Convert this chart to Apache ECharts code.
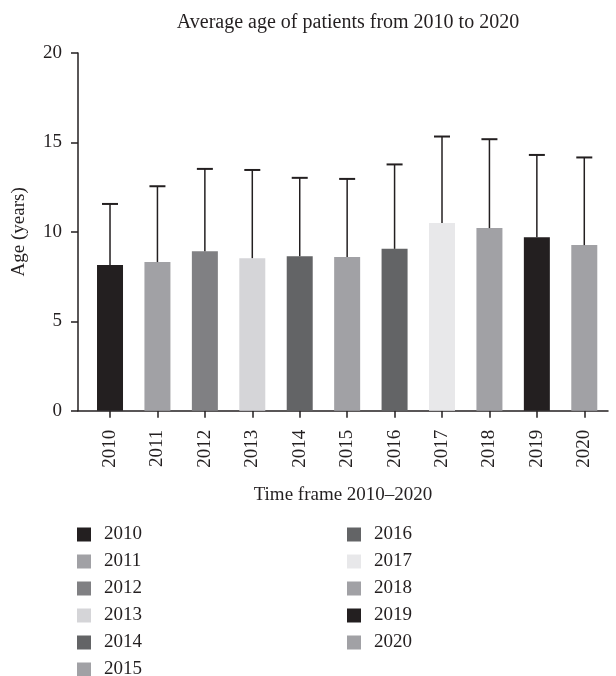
<!DOCTYPE html>
<html>
<head>
<meta charset="utf-8">
<style>
  html, body { margin: 0; padding: 0; background: #fff; }
  #chart { width: 616px; height: 676px; }
</style>
<script src="https://cdn.jsdelivr.net/npm/echarts@6/dist/echarts.min.js"></script>
</head>
<body>
<div id="chart"></div>
<script>
// Yearly mean patient age with the upper standard-deviation whisker
const years = ['2010', '2011', '2012', '2013', '2014', '2015', '2016', '2017', '2018', '2019', '2020'];
const meanAge = [8.14, 8.31, 8.92, 8.53, 8.64, 8.60, 9.05, 10.49, 10.21, 9.70, 9.26];
const upperAge = [11.56, 12.55, 13.52, 13.46, 13.02, 12.96, 13.77, 15.33, 15.18, 14.30, 14.16];
const barColors = ['#231f20', '#a1a1a5', '#808083', '#d5d5d8', '#636466', '#a1a1a5',
                   '#636466', '#e8e8ea', '#a1a1a5', '#231f20', '#a1a1a5'];

const FONT = '"Liberation Serif", "DejaVu Serif", serif';
const TXT = '#231f20';

const chart = echarts.init(document.getElementById('chart'), null, { renderer: 'canvas' });

const positions = years.map((_, i) => i);

const barSeries = years.map((y, i) => ({
  name: y,
  type: 'bar',
  barWidth: 26,
  barGap: '-100%',
  data: [[i, meanAge[i]]],
  itemStyle: { color: barColors[i] },
  emphasis: { disabled: true },
  z: 2
}));

const whiskers = {
  type: 'custom',
  name: 'sd',
  data: years.map((_, i) => [i, meanAge[i], upperAge[i]]),
  encode: { x: 0, y: [1, 2] },
  renderItem: function (params, api) {
    const base = api.coord([api.value(0), api.value(1)]);
    const top = api.coord([api.value(0), api.value(2)]);
    const half = 8;
    return {
      type: 'group',
      children: [
        { type: 'line', shape: { x1: base[0], y1: base[1], x2: top[0], y2: top[1] },
          style: { stroke: TXT, lineWidth: 1.5 } },
        { type: 'line', shape: { x1: top[0] - half, y1: top[1], x2: top[0] + half, y2: top[1] },
          style: { stroke: TXT, lineWidth: 2 } }
      ]
    };
  },
  z: 3
};

const legendCommon = {
  orient: 'vertical',
  itemWidth: 14,
  itemHeight: 14,
  itemGap: 8,
  icon: 'rect',
  padding: 0,
  height: 220,
  textStyle: { fontFamily: FONT, fontSize: 19, color: TXT, padding: [0, 0, 0, 8] },
  selectedMode: false
};

chart.setOption({
  animation: false,
  backgroundColor: '#ffffff',
  title: {
    text: 'Average age of patients from 2010 to 2020',
    left: 343,
    textAlign: 'center',
    top: 8,
    textStyle: { fontFamily: FONT, fontSize: 20, fontWeight: 'normal', color: TXT }
  },
  legend: [
    Object.assign({}, legendCommon, { data: years.slice(0, 6), left: 77, top: 525 }),
    Object.assign({}, legendCommon, { data: years.slice(6), left: 347, top: 525 })
  ],
  grid: { left: 78, right: 8, top: 53, bottom: 265.3, containLabel: false, outerBoundsMode: 'none' },
  xAxis: {
    type: 'value',
    min: -0.675,
    max: 10.5,
    splitLine: { show: false },
    axisLine: { show: true, onZero: false, lineStyle: { color: TXT, width: 1.5 } },
    axisTick: { show: true, customValues: positions, length: 7, lineStyle: { color: TXT, width: 1.5 } },
    axisLabel: {
      customValues: positions,
      formatter: v => years[Math.round(v)],
      rotate: 90,
      margin: 19,
      fontFamily: FONT, fontSize: 19, color: TXT
    },
    name: 'Time frame 2010\u20132020',
    nameLocation: 'middle',
    nameGap: 75,
    nameTextStyle: { fontFamily: FONT, fontSize: 19, color: TXT }
  },
  yAxis: {
    type: 'value',
    min: 0,
    max: 20,
    interval: 5,
    splitLine: { show: false },
    axisLine: { show: true, onZero: false, lineStyle: { color: TXT, width: 1.5 } },
    axisTick: { show: true, length: 7, lineStyle: { color: TXT, width: 1.5 } },
    axisLabel: { margin: 16, fontFamily: FONT, fontSize: 19, color: TXT },
    name: 'Age (years)',
    nameLocation: 'middle',
    nameGap: 49,
    nameRotate: 90,
    nameTextStyle: { fontFamily: FONT, fontSize: 19, color: TXT }
  },
  series: barSeries.concat([whiskers])
});
</script>
</body>
</html>
